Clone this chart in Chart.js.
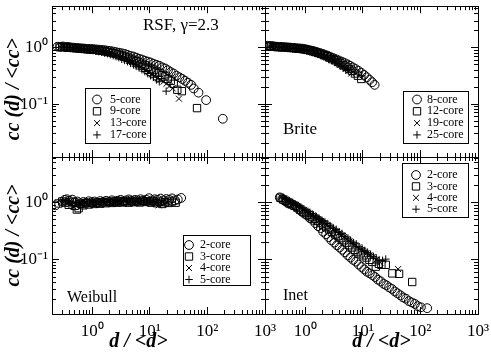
<!DOCTYPE html>
<html>
<head>
<meta charset="utf-8">
<script src="https://cdn.jsdelivr.net/npm/chart.js"></script>
<style>
  html, body { margin: 0; padding: 0; background: #fff; }
  #wrap { position: relative; width: 491px; height: 355px; }
  #wrap canvas { position: absolute; left: 0; top: 0; }
</style>
</head>
<body>
<div id="wrap">
  <canvas id="rsf" width="491" height="355"></canvas>
  <canvas id="brite" width="491" height="355"></canvas>
  <canvas id="weibull" width="491" height="355"></canvas>
  <canvas id="inet" width="491" height="355"></canvas>
</div>
<script>
// ---- data: [d/<d>, cc(d)/<cc>] ----
const rsfLabels = ["5-core", "9-core", "13-core", "17-core"];
const rsf5 = [[0.25,1.05],[0.28,1.04],[0.31,1.06],[0.34,1.03],[0.38,1.04],[0.42,1.02],[0.47,1.01],[0.53,1.0],[0.59,0.99],[0.66,0.98],[0.74,0.97],[0.83,0.96],[0.93,0.96],[1.04,0.95],[1.17,0.94],[1.31,0.93],[1.47,0.92],[1.65,0.91],[1.85,0.89],[2.07,0.88],[2.32,0.86],[2.6,0.84],[2.92,0.82],[3.27,0.8],[3.67,0.78],[4.1,0.75],[4.6,0.72],[5.2,0.7],[5.8,0.67],[6.5,0.64],[7.3,0.62],[8.2,0.59],[9.2,0.57],[10.3,0.55],[11.6,0.52],[13,0.5],[14.6,0.48],[16.4,0.45],[18.4,0.43],[20.6,0.4],[23.1,0.37],[25.9,0.35],[29,0.32],[32.6,0.3],[36.6,0.28],[41,0.26],[46,0.24],[52,0.22],[58,0.19],[70,0.16],[95,0.118],[185,0.055]];
const rsf9 = [[0.27,1.05],[0.3,1.03],[0.33,1.04],[0.37,1.02],[0.41,1.01],[0.46,1.0],[0.52,0.99],[0.58,0.98],[0.65,0.97],[0.73,0.96],[0.82,0.95],[0.92,0.94],[1.03,0.93],[1.16,0.92],[1.3,0.9],[1.46,0.89],[1.64,0.87],[1.84,0.85],[2.06,0.83],[2.31,0.81],[2.59,0.79],[2.9,0.76],[3.25,0.73],[3.65,0.7],[4.1,0.67],[4.6,0.64],[5.2,0.61],[5.8,0.58],[6.5,0.55],[7.3,0.52],[8.2,0.49],[9.2,0.46],[10.3,0.43],[11.6,0.41],[13,0.38],[14.6,0.36],[16.4,0.33],[18.4,0.31],[20.6,0.28],[23.1,0.26],[26,0.23],[30,0.18],[36,0.17],[66,0.085]];
const rsf13 = [[0.28,1.04],[0.31,1.05],[0.35,1.03],[0.39,1.02],[0.44,1.01],[0.49,1.0],[0.55,0.99],[0.62,0.97],[0.69,0.96],[0.78,0.95],[0.87,0.94],[0.98,0.92],[1.1,0.91],[1.23,0.89],[1.38,0.87],[1.55,0.85],[1.74,0.83],[1.95,0.8],[2.19,0.78],[2.45,0.75],[2.75,0.72],[3.08,0.69],[3.46,0.66],[3.88,0.62],[4.35,0.59],[4.9,0.56],[5.5,0.52],[6.1,0.49],[6.9,0.46],[7.7,0.43],[8.6,0.4],[9.7,0.37],[10.9,0.34],[12.2,0.32],[13.7,0.29],[15.4,0.27],[17.3,0.25],[19.4,0.23],[22,0.21],[25,0.19],[32,0.125]];
const rsf17 = [[0.3,1.05],[0.33,1.04],[0.37,1.03],[0.41,1.02],[0.46,1.0],[0.52,0.99],[0.58,0.98],[0.65,0.96],[0.73,0.95],[0.82,0.93],[0.92,0.92],[1.03,0.9],[1.16,0.88],[1.3,0.86],[1.46,0.84],[1.64,0.81],[1.84,0.79],[2.06,0.76],[2.31,0.73],[2.59,0.7],[2.9,0.67],[3.25,0.63],[3.65,0.6],[4.1,0.57],[4.6,0.53],[5.2,0.5],[5.8,0.47],[6.5,0.44],[7.3,0.41],[8.2,0.38],[9.2,0.35],[10.3,0.32],[11.6,0.3],[13,0.27],[14.6,0.25],[19.2,0.17]];

const briteLabels = ["8-core", "12-core", "19-core", "25-core"];
const brite8 = [[0.22,1.09],[0.24,1.07],[0.26,1.08],[0.29,1.06],[0.32,1.05],[0.36,1.04],[0.4,1.04],[0.45,1.03],[0.5,1.02],[0.56,1.01],[0.63,1.0],[0.7,0.99],[0.79,0.98],[0.88,0.97],[0.99,0.95],[1.1,0.93],[1.24,0.9],[1.38,0.88],[1.55,0.85],[1.73,0.82],[1.94,0.79],[2.17,0.76],[2.43,0.73],[2.72,0.69],[3.05,0.66],[3.4,0.63],[3.8,0.6],[4.3,0.57],[4.8,0.54],[5.4,0.51],[6.0,0.48],[6.7,0.45],[7.5,0.42],[8.4,0.39],[9.4,0.36],[10.5,0.33],[11.7,0.3],[13.1,0.27],[14.5,0.245],[16,0.22]];
const brite12 = [[0.23,1.07],[0.25,1.08],[0.28,1.06],[0.31,1.05],[0.35,1.04],[0.39,1.03],[0.44,1.03],[0.49,1.02],[0.55,1.01],[0.61,1.0],[0.69,0.98],[0.77,0.97],[0.86,0.96],[0.96,0.94],[1.08,0.92],[1.2,0.9],[1.35,0.87],[1.5,0.84],[1.68,0.81],[1.88,0.78],[2.1,0.74],[2.35,0.71],[2.63,0.67],[2.94,0.63],[3.3,0.6],[3.7,0.56],[4.1,0.53],[4.6,0.49],[5.2,0.46],[5.8,0.42],[6.5,0.39],[7.3,0.35],[8.2,0.32],[9.4,0.28]];
const brite19 = [[0.24,1.08],[0.27,1.06],[0.3,1.07],[0.33,1.05],[0.37,1.04],[0.42,1.03],[0.47,1.02],[0.52,1.01],[0.59,1.0],[0.66,0.99],[0.74,0.97],[0.82,0.96],[0.92,0.94],[1.03,0.92],[1.16,0.9],[1.3,0.87],[1.45,0.84],[1.62,0.81],[1.82,0.77],[2.04,0.74],[2.28,0.7],[2.55,0.66],[2.86,0.62],[3.2,0.58],[3.6,0.54],[4.0,0.5],[4.5,0.46],[5.0,0.42],[5.6,0.39],[6.3,0.35]];
const brite25 = [[0.25,1.07],[0.28,1.08],[0.31,1.06],[0.35,1.05],[0.39,1.04],[0.44,1.03],[0.49,1.02],[0.55,1.0],[0.62,0.99],[0.69,0.98],[0.77,0.96],[0.87,0.95],[0.97,0.93],[1.09,0.91],[1.22,0.88],[1.36,0.85],[1.53,0.82],[1.71,0.79],[1.91,0.75],[2.14,0.72],[2.4,0.68],[2.69,0.64],[3.0,0.6],[3.4,0.56],[3.8,0.52],[4.2,0.48],[4.7,0.44],[5.3,0.41]];

const weibLabels = ["2-core", "3-core", "4-core", "5-core"];
const weib2 = [[0.23,0.9],[0.33,1.12],[0.36,1.15],[0.4,1.08],[0.45,1.13],[0.5,1.02],[0.55,1.05],[0.62,0.98],[0.7,1.03],[0.78,1.0],[0.87,1.06],[0.98,1.02],[1.1,1.05],[1.23,1.0],[1.38,1.07],[1.55,1.03],[1.74,1.08],[1.95,1.04],[2.2,1.1],[2.45,1.05],[2.75,1.08],[3.1,1.12],[3.45,1.06],[3.9,1.1],[4.35,1.14],[4.9,1.08],[5.5,1.12],[6.1,1.1],[6.9,1.15],[7.7,1.09],[8.6,1.13],[9.7,1.2],[10.9,1.1],[12.2,1.15],[13.7,1.12],[15.4,1.18],[17.2,1.1],[19.3,1.16],[21.7,1.12],[24.3,1.19],[27.3,1.1],[30.6,1.14],[35,1.21]];
const weib3 = [[0.26,0.97],[0.3,1.05],[0.34,1.0],[0.39,0.92],[0.44,1.04],[0.5,0.88],[0.54,0.76],[0.58,0.8],[0.63,0.95],[0.7,0.9],[0.78,0.98],[0.87,0.93],[0.97,0.99],[1.09,0.95],[1.22,1.0],[1.37,0.96],[1.53,1.02],[1.72,0.98],[1.93,1.03],[2.16,0.99],[2.42,1.04],[2.71,1.0],[3.0,1.06],[3.4,1.01],[3.8,1.05],[4.3,1.0],[4.8,1.07],[5.4,1.02],[6.0,1.05],[6.7,1.01],[7.5,1.08],[8.4,1.03],[9.4,1.06],[10.5,1.0],[11.8,1.05],[13.2,0.98],[14.8,1.04],[16.5,0.95],[18.5,1.02],[21,0.99],[24,1.05],[28,1.0]];
const weib4 = [[0.29,1.02],[0.34,1.08],[0.38,0.97],[0.43,0.9],[0.48,0.85],[0.53,0.95],[0.6,1.0],[0.67,0.94],[0.75,1.0],[0.84,0.96],[0.94,1.02],[1.05,0.98],[1.18,1.03],[1.32,0.99],[1.48,1.04],[1.66,1.0],[1.86,1.05],[2.08,1.01],[2.33,1.06],[2.6,1.02],[2.92,1.07],[3.27,1.03],[3.66,1.08],[4.1,1.02],[4.6,1.06],[5.15,1.0],[5.75,1.05],[6.45,1.02],[7.2,1.07],[8.1,1.03],[9.0,1.06],[10.1,1.0],[11.3,1.04],[12.7,1.0],[14.2,0.9],[16,1.02],[18,0.98],[20,1.03]];
const weib5 = [[0.31,1.06],[0.35,1.1],[0.4,1.04],[0.45,0.98],[0.51,1.02],[0.57,0.96],[0.64,1.01],[0.71,0.97],[0.8,1.03],[0.9,0.99],[1.0,1.04],[1.12,1.0],[1.26,1.05],[1.41,1.01],[1.58,1.06],[1.77,1.02],[1.98,1.07],[2.22,1.03],[2.49,1.08],[2.79,1.04],[3.12,1.09],[3.5,1.04],[3.92,1.08],[4.4,1.03],[4.9,1.07],[5.5,1.02],[6.2,1.08],[6.9,1.04],[7.8,1.09],[8.7,1.03],[9.8,1.07],[11,1.02],[12.3,1.06],[13.8,1.01]];

const inetLabels = ["2-core", "3-core", "4-core", "5-core"];
const inet2 = [[0.36,1.24],[0.4,1.15],[0.45,1.06],[0.5,0.98],[0.56,0.97],[0.62,0.9],[0.7,0.86],[0.78,0.76],[0.87,0.7],[0.97,0.64],[1.08,0.6],[1.2,0.54],[1.34,0.5],[1.5,0.44],[1.67,0.39],[1.86,0.36],[2.05,0.31],[2.3,0.28],[2.55,0.25],[2.85,0.22],[3.2,0.2],[3.55,0.18],[3.95,0.165],[4.4,0.15],[4.9,0.135],[5.5,0.12],[6.1,0.11],[6.8,0.1],[7.6,0.093],[8.5,0.083],[9.5,0.075],[10.6,0.068],[11.8,0.062],[13.2,0.058],[14.7,0.054],[16.4,0.05],[18.3,0.045],[20.5,0.042],[23,0.038],[25.6,0.036],[28.6,0.033],[32,0.031],[36,0.028],[40,0.026],[45,0.024],[50,0.022],[56,0.021],[63,0.019],[71,0.018],[80,0.017],[90,0.0155],[102,0.0148],[131,0.0143]];
const inet3 = [[0.37,1.22],[0.41,1.14],[0.46,1.08],[0.52,1.0],[0.58,0.93],[0.65,0.88],[0.73,0.82],[0.82,0.76],[0.92,0.7],[1.03,0.66],[1.16,0.61],[1.3,0.56],[1.46,0.52],[1.64,0.48],[1.84,0.44],[2.06,0.4],[2.31,0.37],[2.6,0.34],[2.9,0.31],[3.3,0.28],[3.7,0.26],[4.1,0.24],[4.6,0.22],[5.2,0.2],[5.8,0.18],[6.5,0.165],[7.3,0.15],[8.2,0.14],[9.2,0.13],[10.3,0.12],[11.6,0.11],[13,0.1],[14.6,0.092],[16.8,0.076],[19,0.085],[21,0.082],[25,0.082],[32.6,0.058],[42.6,0.057],[72,0.041]];
const inet4 = [[0.38,1.25],[0.43,1.18],[0.48,1.1],[0.54,1.04],[0.6,0.97],[0.68,0.92],[0.76,0.85],[0.85,0.8],[0.95,0.75],[1.07,0.7],[1.2,0.65],[1.34,0.6],[1.5,0.56],[1.69,0.52],[1.89,0.48],[2.12,0.44],[2.38,0.41],[2.67,0.38],[3.0,0.34],[3.35,0.32],[3.76,0.29],[4.2,0.27],[4.7,0.25],[5.3,0.23],[5.9,0.21],[6.6,0.19],[7.4,0.18],[8.3,0.165],[9.3,0.15],[10.5,0.14],[11.7,0.13],[13.2,0.12],[14.8,0.112],[17,0.1],[20,0.09],[41,0.069]];
const inet5 = [[0.4,1.2],[0.45,1.15],[0.5,1.09],[0.56,1.02],[0.63,0.96],[0.7,0.9],[0.79,0.85],[0.88,0.8],[0.99,0.74],[1.11,0.7],[1.24,0.65],[1.39,0.61],[1.56,0.57],[1.75,0.53],[1.96,0.49],[2.2,0.46],[2.46,0.43],[2.76,0.39],[3.1,0.36],[3.45,0.34],[3.9,0.31],[4.35,0.29],[4.9,0.26],[5.5,0.24],[6.1,0.22],[6.9,0.2],[7.7,0.19],[8.6,0.17],[9.7,0.16],[10.8,0.145],[12.1,0.135],[13.6,0.125],[15.3,0.115],[17.1,0.108],[19.2,0.1],[22,0.098],[25,0.103]];

// ---- ticks ----
const xMajorTicks = [1, 10, 100, 1000];
const xMinorTicks = [0.2,0.3,0.4,0.5,0.6,0.7,0.8,0.9, 2,3,4,5,6,7,8,9, 20,30,40,50,60,70,80,90, 200,300,400,500,600,700,800,900];
const xTickLabels = ["10\u2070", "10\u00b9", "10\u00b2", "10\u00b3"];
const yMajorTicks = [0.1, 1];
const yMinorTicks = [0.02,0.03,0.04,0.05,0.06,0.07,0.08,0.09, 0.2,0.3,0.4,0.5,0.6,0.7,0.8,0.9, 2,3,4,5,6];
const yTickLabels = ["10\u207b\u00b9", "10\u2070"];

const SERIF = "'Liberation Serif', 'Times New Roman', serif";
const W = 491, H = 355;
const markers = [
  { pointStyle: "circle", pointRadius: 4.4 },
  { pointStyle: "rect", pointRadius: 5.2 },
  { pointStyle: "crossRot", pointRadius: 4.2 },
  { pointStyle: "cross", pointRadius: 3.8 },
];

// legend box + panel caption, drawn on the canvas
const annotate = {
  id: "annotate",
  afterDraw(chart, args, o) {
    const ctx = chart.ctx;
    ctx.save();
    ctx.fillStyle = "#000";
    ctx.font = o.captionSize + "px " + SERIF;
    ctx.textBaseline = "alphabetic";
    ctx.textAlign = "left";
    ctx.fillText(o.caption, o.captionX, o.captionY);

    const b = o.box;
    ctx.fillStyle = "#fff";
    ctx.fillRect(b.x, b.y, b.w, b.h);
    ctx.strokeStyle = "#000";
    ctx.lineWidth = 1;
    ctx.strokeRect(b.x + 0.5, b.y + 0.5, b.w, b.h);
    ctx.font = "12px " + SERIF;
    ctx.textBaseline = "middle";
    chart.data.datasets.forEach((ds, i) => {
      const y = b.row0 + i * b.rowH;
      ctx.fillStyle = "rgba(0,0,0,0)";
      ctx.strokeStyle = "#000";
      ctx.lineWidth = 1;
      Chart.helpers.drawPoint(ctx, { pointStyle: ds.pointStyle, radius: ds.pointRadius, borderWidth: 1, rotation: 0 }, b.symX, y);
      ctx.fillStyle = "#000";
      ctx.fillText(ds.label, b.textX, y);
    });
    ctx.restore();
  }
};

function logAxis(axis, position, min, max, vals, major, size, weight, extra) {
  return Object.assign({
    type: "logarithmic",
    axis: axis,
    position: position,
    min: min,
    max: max,
    weight: weight,
    afterBuildTicks: s => { s.ticks = vals.filter(v => v >= min && v <= max).map(v => ({ value: v })); },
    afterFit: s => {
      if (axis === "x") s.height = size; else s.width = size;
      // keep the plot area exactly where it is asked to be
      s.paddingTop = 0; s.paddingBottom = 0; s.paddingLeft = 0; s.paddingRight = 0;
    },
    grid: { drawOnChartArea: false, drawTicks: true, tickLength: major ? -7 : -4, tickColor: "#000", tickWidth: 1 },
    border: { display: true, color: "#000", width: 1 },
    ticks: { display: false, autoSkip: false, maxRotation: 0 },
  }, extra || {});
}

function makePanel(id, p) {
  const area = p.area;
  const scales = {
    x: logAxis("x", "bottom", 0.2, 1000, xMajorTicks, true, p.xLabels ? H - area.bottom : 0, 2, p.xLabels ? {
      ticks: { display: true, autoSkip: false, maxRotation: 0, padding: 14, color: "#000",
               font: { family: SERIF, size: 17 }, callback: (v, i) => xTickLabels[i] },
      title: { display: true, text: p.xTitle, color: "#000", padding: { top: 0, bottom: 1 },
               font: { family: SERIF, size: 20, style: "italic", weight: "bold" } },
    } : null),
    xm: logAxis("x", "bottom", 0.2, 1000, xMinorTicks, false, 0, 1),
    xt: logAxis("x", "top", 0.2, 1000, xMajorTicks, true, 0, 2),
    xtm: logAxis("x", "top", 0.2, 1000, xMinorTicks, false, 0, 1),
    y: logAxis("y", "left", p.yMin, p.yMax, yMajorTicks, true, p.yLabels ? area.left : 0, 2, p.yLabels ? {
      ticks: { display: true, autoSkip: false, padding: 11, color: "#000",
               font: { family: SERIF, size: 17 }, callback: (v, i) => yTickLabels[i] },
      title: { display: true, text: p.yTitle, color: "#000", padding: { top: 2, bottom: 0 },
               font: { family: SERIF, size: 20, style: "italic", weight: "bold" } },
    } : null),
    ym: logAxis("y", "left", p.yMin, p.yMax, yMinorTicks, false, 0, 1),
    yr: logAxis("y", "right", p.yMin, p.yMax, yMajorTicks, true, 0, 2),
    yrm: logAxis("y", "right", p.yMin, p.yMax, yMinorTicks, false, 0, 1),
  };

  new Chart(document.getElementById(id), {
    type: "scatter",
    data: {
      datasets: p.series.map((s, i) => ({
        label: p.labels[i],
        data: s.map(pt => ({ x: pt[0], y: pt[1] })),
        xAxisID: "x",
        yAxisID: "y",
        pointStyle: markers[i].pointStyle,
        pointRadius: markers[i].pointRadius,
        pointBorderWidth: 1,
        borderColor: "#000",
        backgroundColor: "rgba(0,0,0,0)",
        showLine: false,
      })),
    },
    options: {
      responsive: false,
      devicePixelRatio: 1,
      animation: false,
      events: [],
      layout: {
        padding: {
          left: p.yLabels ? 0 : area.left,
          right: W - area.right,
          top: area.top,
          bottom: p.xLabels ? 0 : H - area.bottom,
        },
      },
      scales: scales,
      plugins: {
        legend: { display: false },
        tooltip: { enabled: false },
        annotate: p.notes,
      },
    },
    plugins: [annotate],
  });
}

makePanel("rsf", {
  area: { left: 52, top: 2, right: 265, bottom: 157 },
  yMin: 0.0115, yMax: 5.5,
  series: [rsf5, rsf9, rsf13, rsf17], labels: rsfLabels,
  yLabels: true, xLabels: false,
  yTitle: "cc (d) / <cc>   ",
  notes: { caption: "RSF, \u03b3=2.3", captionSize: 17, captionX: 143, captionY: 30,
           box: { x: 85, y: 88, w: 65, h: 55, symX: 97, textX: 110, row0: 99.5, rowH: 11.8 } },
});
makePanel("brite", {
  area: { left: 265, top: 2, right: 478, bottom: 157 },
  yMin: 0.0115, yMax: 5.5,
  series: [brite8, brite12, brite19, brite25], labels: briteLabels,
  yLabels: false, xLabels: false,
  notes: { caption: "Brite", captionSize: 17, captionX: 283, captionY: 134,
           box: { x: 403, y: 91, w: 65, h: 52, symX: 417, textX: 427, row0: 99.5, rowH: 11.8 } },
});
makePanel("weibull", {
  area: { left: 52, top: 157, right: 265, bottom: 314 },
  yMin: 0.0113, yMax: 6.3,
  series: [weib2, weib3, weib4, weib5], labels: weibLabels,
  yLabels: true, xLabels: true,
  yTitle: "cc (d) / <cc>",
  xTitle: "d / <d>        ",
  notes: { caption: "Weibull", captionSize: 16, captionX: 67, captionY: 302,
           box: { x: 183, y: 235, w: 67, h: 50, symX: 189, textX: 200, row0: 245, rowH: 11.5 } },
});
makePanel("inet", {
  area: { left: 265, top: 157, right: 478, bottom: 314 },
  yMin: 0.0113, yMax: 6.3,
  series: [inet2, inet3, inet4, inet5], labels: inetLabels,
  yLabels: false, xLabels: true,
  xTitle: "    d / <d>",
  notes: { caption: "Inet", captionSize: 16, captionX: 283, captionY: 300,
           box: { x: 402, y: 163, w: 66, h: 54, symX: 416, textX: 427, row0: 175, rowH: 11.4 } },
});
</script>
</body>
</html>
